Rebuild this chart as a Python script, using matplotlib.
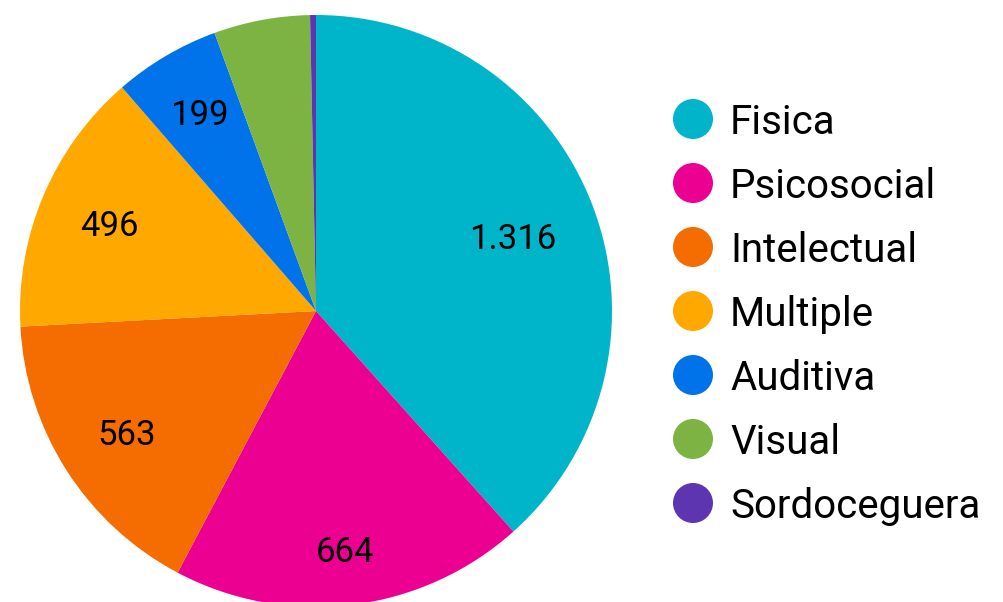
import numpy as np
import matplotlib.pyplot as plt
from matplotlib.patches import Circle

labels = ["Fisica", "Psicosocial", "Intelectual", "Multiple", "Auditiva", "Visual", "Sordoceguera"]
values = [1316, 664, 563, 496, 199, 180, 11]
colors = ["#00B5C9", "#EC0092", "#F56C00", "#FFA800", "#0073EA", "#7CB342", "#5E35B1"]
shown = [True, True, True, True, True, False, False]
# radial position of each value label (fraction of radius)
label_dist = [0.71, 0.81, 0.76, 0.76, 0.78, 0.7, 0.7]

plt.rcParams["font.family"] = ["Roboto", "DejaVu Sans"]

W, H = 1004, 602
fig = plt.figure(figsize=(W / 100, H / 100), dpi=100)

# pie: center (316, 311), radius 296 px
cx, cy, r = 316, 311, 296
ax = fig.add_axes([(cx - r) / W, (H - cy - r) / H, 2 * r / W, 2 * r / H])
wedges, _ = ax.pie(values, colors=colors, startangle=90, counterclock=False,
                   radius=1, wedgeprops=dict(linewidth=0))
ax.set_xlim(-1, 1)
ax.set_ylim(-1, 1)
ax.set_aspect("equal")
ax.axis("off")

for w, v, s, d in zip(wedges, values, shown, label_dist):
    if not s:
        continue
    ang = np.deg2rad((w.theta1 + w.theta2) / 2)
    txt = f"{v:,}".replace(",", ".")
    ax.text(d * np.cos(ang), d * np.sin(ang), txt, ha="center", va="center_baseline",
            fontsize=25, color="#000000")

# legend drawn in pixel coordinates
lax = fig.add_axes([0, 0, 1, 1])
lax.set_xlim(0, W)
lax.set_ylim(H, 0)
lax.axis("off")
for i, (lab, col) in enumerate(zip(labels, colors)):
    y = 119 + i * 64
    lax.add_patch(Circle((693, y), 20, color=col, lw=0))
    lax.text(730, y, lab, ha="left", va="center_baseline", fontsize=29, color="#000000")

plt.savefig("out.png", dpi=100)
